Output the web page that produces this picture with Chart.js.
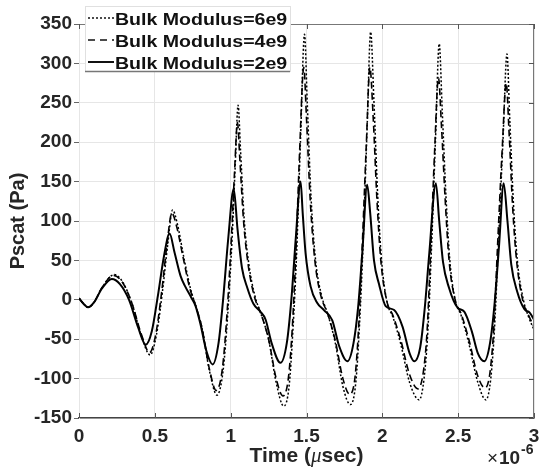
<!DOCTYPE html>
<html>
<head>
<meta charset="utf-8">
<script src="https://cdn.jsdelivr.net/npm/chart.js@4/dist/chart.umd.min.js"></script>
<style>
  html, body { margin:0; padding:0; background:#fff; }
  #wrap { width:539px; height:468px; position:relative; }
</style>
</head>
<body>
<div id="wrap"><canvas id="c" width="539" height="468"></canvas></div>
<script>
// x in units of 1e-6 s, y in Pa
const seriesNames = ['Bulk Modulus=6e9', 'Bulk Modulus=4e9', 'Bulk Modulus=2e9'];
const xTicks = [0, 0.5, 1, 1.5, 2, 2.5, 3];
const yTicks = [-150, -100, -50, 0, 50, 100, 150, 200, 250, 300, 350];

// Bulk Modulus = 6e9 (dotted)
const t6 = [0,0.03,0.06,0.1,0.15,0.233,0.29,0.35,0.41,0.469,0.51,0.55,0.585,0.617,0.65,0.69,0.734,0.77,0.81,0.86,0.91,0.95,0.98,1.01,1.03,1.049,1.065,1.09,1.12,1.16,1.2,1.25,1.3,1.35,1.385,1.41,1.435,1.46,1.487,1.505,1.53,1.56,1.6,1.64,1.69,1.74,1.79,1.825,1.85,1.875,1.9,1.923,1.945,1.97,1.995,2.03,2.07,2.12,2.18,2.243,2.275,2.3,2.325,2.35,2.375,2.395,2.42,2.445,2.48,2.52,2.57,2.63,2.683,2.715,2.74,2.765,2.795,2.822,2.84,2.865,2.89,2.93,2.965,3];
const p6 = [2,-5,-9.5,-3,15,32,22,-5,-45,-70,-45,10,70,114,95,55,15,-8,-35,-90,-121,-90,-20,80,170,247,190,100,45,5,-18,-50,-105,-135,-110,-40,60,200,337,250,130,50,5,-18,-55,-110,-133,-105,-30,80,220,340,250,130,50,-2,-22,-55,-105,-127,-100,-40,70,200,325,240,130,50,0,-20,-55,-105,-127,-100,-35,70,200,312,230,120,50,0,-22,-38];

// Bulk Modulus = 4e9 (dashed)
const t4 = [0,0.03,0.06,0.1,0.15,0.228,0.29,0.35,0.41,0.465,0.505,0.545,0.58,0.612,0.645,0.685,0.73,0.77,0.81,0.86,0.905,0.945,0.975,1.005,1.025,1.045,1.06,1.085,1.115,1.155,1.2,1.25,1.3,1.345,1.38,1.405,1.43,1.455,1.482,1.5,1.525,1.555,1.595,1.64,1.69,1.74,1.785,1.82,1.845,1.87,1.895,1.918,1.94,1.965,1.99,2.03,2.07,2.12,2.18,2.235,2.27,2.295,2.32,2.345,2.37,2.39,2.415,2.44,2.48,2.52,2.57,2.63,2.678,2.71,2.735,2.76,2.79,2.817,2.835,2.86,2.885,2.925,2.965,3];
const p4 = [2,-5,-9.5,-3,15,31,21,-5,-43,-67,-45,10,70,110,92,55,15,-8,-35,-88,-115,-88,-20,80,160,225,180,100,45,5,-18,-50,-100,-122,-100,-40,60,190,295,230,125,50,5,-18,-52,-100,-120,-98,-30,80,200,295,230,125,50,-2,-20,-50,-95,-113,-92,-40,70,190,282,220,125,50,0,-18,-50,-97,-112,-92,-35,70,190,275,215,115,50,0,-20,-34];

// Bulk Modulus = 2e9 (solid)
const t2 = [0,0.03,0.06,0.1,0.15,0.216,0.27,0.33,0.39,0.44,0.48,0.52,0.56,0.597,0.63,0.67,0.7,0.74,0.767,0.8,0.84,0.881,0.92,0.95,0.985,1.02,1.045,1.075,1.11,1.15,1.196,1.23,1.27,1.328,1.37,1.4,1.43,1.461,1.475,1.494,1.527,1.571,1.615,1.67,1.714,1.77,1.81,1.84,1.868,1.9,1.92,1.945,1.978,2.022,2.078,2.133,2.18,2.21,2.25,2.28,2.31,2.353,2.375,2.4,2.44,2.496,2.54,2.59,2.63,2.672,2.71,2.74,2.77,2.8,2.825,2.85,2.89,2.937,2.97,3];
const p2 = [2,-5,-9.5,-3,14,26.5,20,0,-35,-57,-40,5,55,84,60,30,17,3,-7,-30,-65,-82,-55,0,80,141,90,40,15,-5,-15,-25,-55,-80,-55,0,80,150,110,59,17,-4,-13,-26,-58,-78,-55,-10,60,146,110,50,20,-8,-13,-34,-68,-78,-60,-10,60,148,100,48,15,-10,-15,-40,-68,-78,-55,-5,70,148,100,45,10,-12,-16,-25];

const pts = (t, p) => t.map((x, i) => ({x: x, y: p[i]}));

const styles = [
  {dash: [2, 2], width: 1.5},
  {dash: [7, 4], width: 1.6},
  {dash: [], width: 2}
];

const TXT = '#262626';

// border box, inner ticks, titles, x10^-6 and legend
const extras = {
  id: 'extras',
  afterDraw(chart){
    const ctx = chart.ctx;
    const a = chart.chartArea;
    const xs = chart.scales.x, ys = chart.scales.y;
    ctx.save();
    // top and right border
    ctx.strokeStyle = '#777';
    ctx.lineWidth = 1;
    ctx.beginPath();
    ctx.moveTo(a.left, a.top + 0.5); ctx.lineTo(a.right - 0.5, a.top + 0.5);
    ctx.lineTo(a.right - 0.5, a.bottom);
    ctx.stroke();
    // inner ticks
    ctx.strokeStyle = '#555';
    ctx.beginPath();
    xTicks.forEach(v => {
      const px = Math.round(xs.getPixelForValue(v)) + 0.5;
      ctx.moveTo(px, a.bottom); ctx.lineTo(px, a.bottom - 5);
      ctx.moveTo(px, a.top); ctx.lineTo(px, a.top + 5);
    });
    yTicks.forEach(v => {
      const py = Math.round(ys.getPixelForValue(v)) + 0.5;
      ctx.moveTo(a.right, py); ctx.lineTo(a.right - 5, py);
    });
    ctx.stroke();

    ctx.fillStyle = TXT;
    // y title
    ctx.save();
    ctx.translate(18, (a.top + a.bottom) / 2);
    ctx.rotate(-Math.PI / 2);
    ctx.font = 'bold 20px "Liberation Sans", Arial, sans-serif';
    ctx.textAlign = 'center';
    ctx.textBaseline = 'middle';
    ctx.fillText('Pscat (Pa)', 0, 0);
    ctx.restore();

    // x title with italic mu
    const parts = [
      {s: 'Time (', f: 'bold 21px "Liberation Sans", Arial, sans-serif'},
      {s: '\u03bc', f: 'italic 21px "Liberation Serif", "Times New Roman", serif'},
      {s: 'sec)', f: 'bold 21px "Liberation Sans", Arial, sans-serif'}
    ];
    let tw = 0;
    parts.forEach(p => { ctx.font = p.f; p.w = ctx.measureText(p.s).width; tw += p.w; });
    let tx = (a.left + a.right) / 2 - tw / 2;
    ctx.textBaseline = 'alphabetic';
    ctx.textAlign = 'left';
    parts.forEach(p => { ctx.font = p.f; ctx.fillText(p.s, tx, 462); tx += p.w; });

    // x10^-6
    ctx.font = '19px "Liberation Sans", Arial, sans-serif';
    ctx.fillText('\u00d7', 487, 464);
    ctx.font = 'bold 19px "Liberation Sans", Arial, sans-serif';
    ctx.fillText('10', 499, 464);
    ctx.font = 'bold 14px "Liberation Sans", Arial, sans-serif';
    ctx.fillText('-6', 521, 454);

    // legend
    const lx = 85, ly = 6, lw = 205, lh = 65;
    ctx.fillStyle = '#fff';
    ctx.fillRect(lx, ly, lw, lh);
    ctx.strokeStyle = '#e0e0e0';
    ctx.lineWidth = 1;
    ctx.strokeRect(lx + 0.5, ly + 0.5, lw, lh);
    ctx.strokeStyle = '#777';
    ctx.lineWidth = 1.5;
    ctx.beginPath(); ctx.moveTo(lx, ly + lh + 0.5); ctx.lineTo(lx + lw, ly + lh + 0.5); ctx.stroke();
    const rows = [18, 40, 62];
    seriesNames.forEach((name, i) => {
      ctx.strokeStyle = '#111';
      ctx.lineWidth = styles[i].width;
      ctx.setLineDash(i === 1 ? [7, 5] : styles[i].dash);
      ctx.beginPath(); ctx.moveTo(88, rows[i]); ctx.lineTo(114, rows[i]); ctx.stroke();
      ctx.setLineDash([]);
      ctx.save();
      ctx.translate(115, rows[i] + 6.5);
      ctx.scale(1.15, 1);
      ctx.fillStyle = '#111';
      ctx.font = 'bold 17px "Liberation Sans", Arial, sans-serif';
      ctx.textBaseline = 'alphabetic';
      ctx.fillText(name, 0, 0);
      ctx.restore();
    });
    ctx.restore();
  }
};

new Chart(document.getElementById('c'), {
  type: 'line',
  data: {
    datasets: [
      {label: seriesNames[0], data: pts(t6, p6)},
      {label: seriesNames[1], data: pts(t4, p4)},
      {label: seriesNames[2], data: pts(t2, p2)}
    ].map((d, i) => Object.assign(d, {
      borderColor: '#000',
      borderWidth: styles[i].width,
      borderDash: styles[i].dash,
      pointRadius: 0,
      fill: false,
      cubicInterpolationMode: 'monotone'
    }))
  },
  options: {
    responsive: false,
    animation: false,
    layout: {padding: {top: 24, right: 5, left: 0, bottom: 0}},
    plugins: {legend: {display: false}, tooltip: {enabled: false}},
    scales: {
      x: {
        type: 'linear', min: 0, max: 3,
        afterFit: s => { s.height = 50; s.paddingLeft = 0; s.paddingRight = 0; },
        afterBuildTicks: s => { s.ticks = xTicks.map(v => ({value: v})); },
        grid: {color: '#e6e6e6', drawTicks: false},
        border: {color: '#444', width: 1.5},
        ticks: {
          padding: 7, color: TXT, maxRotation: 0,
          font: {family: '"Liberation Sans", Arial, sans-serif', size: 19, weight: 'bold'},
          callback: v => String(v)
        }
      },
      y: {
        min: -150, max: 350,
        afterFit: s => { s.width = 79; s.paddingTop = 0; s.paddingBottom = 0; },
        afterBuildTicks: s => { s.ticks = yTicks.map(v => ({value: v})); },
        grid: {color: '#e6e6e6', tickColor: '#666', tickLength: 5},
        border: {color: '#e6e6e6'},
        ticks: {
          padding: 2, color: TXT,
          font: {family: '"Liberation Sans", Arial, sans-serif', size: 19, weight: 'bold'},
          callback: v => String(v)
        }
      }
    }
  },
  plugins: [extras]
});
</script>
</body>
</html>
